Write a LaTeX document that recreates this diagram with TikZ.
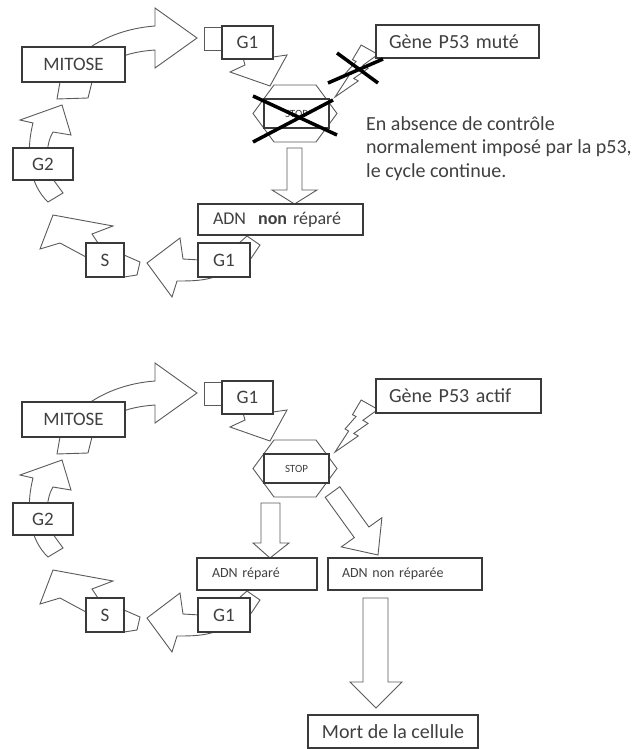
\documentclass[tikz,border=0pt]{standalone}
\usepackage{fontspec}
\setmainfont{Carlito}
\definecolor{txt}{HTML}{404040}
\definecolor{boxc}{HTML}{3A3A3A}
\definecolor{arc}{HTML}{5A5A5A}
\tikzset{
  box/.style={draw=boxc, line width=1.1pt, fill=white, inner sep=0pt, text=txt, font=\fontsize{19}{22}\selectfont},
  lbox/.style={box, align=left},
  blk/.style={draw=arc, line width=0.9pt, fill=white, line join=miter},
  cross/.style={draw=black, line width=3.5pt},
}
\newcommand{\mycycle}[2]{%
\begin{scope}[shift={(0,#2)}]
  % MITOSE -> G1
  \draw[blk] (57,99) -- (60,82) .. controls (66,62) and (100,30) .. (155,26) -- (155,8) -- (197,38) -- (155,68) -- (155,50) .. controls (125,52) and (100,62) .. (92,82) -- (88,98) -- cycle;
  % G2 -> MITOSE
  \draw[blk] (48,202) .. controls (30,185) and (25,155) .. (33,123) -- (20,120) -- (62,105) -- (71,135) -- (53,132) .. controls (45,145) and (45,170) .. (55,182) -- (63,193) -- cycle;
  % S -> G2
  \draw[blk] (53,215) -- (113,226) -- (92,234) -- (98,243) -- (110,255) -- (124,255) -- (140,262) -- (137,275) -- (124,277) -- (110,270) -- (86,257) -- (60,243) -- (40,249) -- cycle;
  % G1 -> S
  \draw[blk] (147,263) -- (180,238) -- (183,259) -- (200,260) -- (238,244) -- (247,236) -- (260,245) -- (252,257) -- (240,272) -- (217,276) .. controls (205,281) and (190,281) .. (177,281) -- (172,297) -- cycle;
  % small square behind G1
  \draw[blk] (204,27) rectangle (228,50);
  % G1 -> STOP
  \draw[blk] (243,58) -- (245,65) -- (230,72) -- (270,86) -- (287,55) -- (273,57) -- cycle;
  % STOP hexagon
  \draw[blk] (274,85) -- (316,85) -- (337,113.5) -- (316,142) -- (274,142) -- (253,113.5) -- cycle;
  \node[box, minimum width=65pt, minimum height=29pt, font=\fontsize{11}{13}\selectfont] (stop#1) at (296.5,113.5) {STOP};
  % boxes
  \node[box, minimum width=103pt, minimum height=35pt] (mit#1) at (73.5,64.5) {MITOSE};
  \node[box, minimum width=51pt, minimum height=33pt] (g1a#1) at (247.5,42.5) {G1};
  \node[box, minimum width=60pt, minimum height=32pt] (g2#1) at (43,164) {G2};
  \node[box, minimum width=38pt, minimum height=34pt] (s#1) at (105,260) {S};
  \node[box, minimum width=52pt, minimum height=34pt] (g1b#1) at (224,260) {G1};
\end{scope}}
\newcommand{\mybolt}[4]{%
\begin{scope}[shift={(#1,#2)}, xscale=#3, yscale=#4]
  \draw[blk, line width=0.9pt] (0.6084,0) -- (1,0.1816) -- (0.6498,0.3896) -- (0.7688,0.45) -- (0.4353,0.6437) -- (0.5415,0.6914) -- (0,1) -- (0.3163,0.5977) -- (0.2334,0.5563) -- (0.4894,0.3167) -- (0.406,0.2833) -- cycle;
\end{scope}}
\begin{document}
\begin{tikzpicture}[x=1pt, y=-1pt]
\useasboundingbox (0,0) rectangle (638,749);
% ================= top diagram =================
\mycycle{t}{0}
\draw[blk] (287,148) -- (302,148) -- (302,190) -- (317,190) -- (294.5,204) -- (272,190) -- (287,190) -- cycle;
\node[lbox, minimum height=31pt, text width=135pt, inner xsep=15pt, font=\fontsize{18}{21}\selectfont] (adnt) at (280.5,219.5) {ADN\ \ \textbf{non} réparé};
\mybolt{335}{45}{43}{52}
\node[lbox, minimum height=33pt, text width=137pt, inner xsep=13pt, font=\fontsize{20}{23}\selectfont] (genet) at (457.5,41.5) {Gène P53 muté};
\draw[cross] (253,96) -- (337,135);
\draw[cross] (253,142) -- (333,100);
\draw[cross] (328,83) -- (383,59);
\draw[cross] (337,53) -- (378,83);
\node[anchor=north west, align=left, text=txt, font=\fontsize{20}{23.5}\selectfont, inner sep=0pt] (para) at (366,116) {En absence de contrôle\\normalement imposé par la p53,\\le cycle continue.};
% ================= bottom diagram =================
\mycycle{b}{355}
\draw[blk] (261,503) -- (280,503) -- (280,543) -- (289,543) -- (270,558) -- (253,543) -- (261,543) -- cycle;
\node[lbox, minimum height=32pt, text width=90pt, inner xsep=15pt, font=\fontsize{14}{16}\selectfont] (adnr) at (257,574) {ADN réparé};
\draw[blk] (339.8,486.7) -- (368.9,527.0) -- (381.9,517.7) -- (378,555) -- (341.3,546.9) -- (354.3,537.6) -- (325.2,497.3) -- cycle;
\node[lbox, minimum height=32pt, text width=126pt, inner xsep=14pt, font=\fontsize{14}{16}\selectfont] (adnn) at (405,574) {ADN non réparée};
\mybolt{335}{400}{43}{52}
\node[lbox, minimum height=34pt, text width=139pt, inner xsep=13pt, font=\fontsize{20}{23}\selectfont] (genea) at (458.5,396) {Gène P53 actif};
\draw[blk] (363,598) -- (388,598) -- (388,682) -- (402,682) -- (376,708) -- (350,682) -- (363,682) -- cycle;
\node[box, minimum width=170pt, minimum height=33pt, font=\fontsize{20}{23}\selectfont] (mort) at (393,731.5) {Mort de la cellule};
\end{tikzpicture}
\end{document}
